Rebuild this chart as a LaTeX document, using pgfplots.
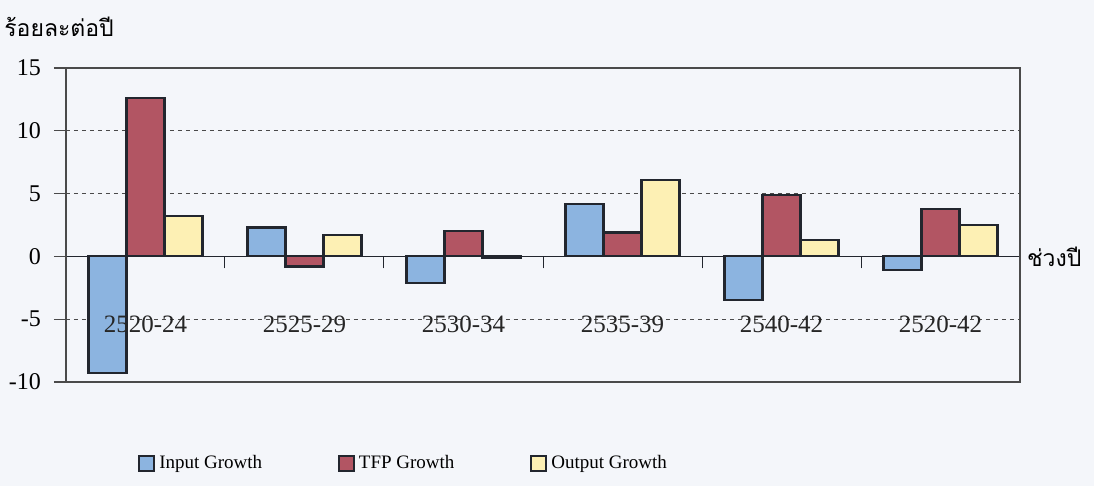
\documentclass[border=0pt]{standalone}
\usepackage{pgfplots}
\pgfplotsset{compat=1.18}
\usepackage{fontspec}
\setmainfont{Liberation Serif}
\newfontfamily\thaifont[Script=Thai]{Loma}

\definecolor{paper}{HTML}{F4F6FA}
\definecolor{inputblue}{HTML}{8CB4E0}
\definecolor{tfpred}{HTML}{B25563}
\definecolor{outyellow}{HTML}{FDF0B4}
\definecolor{barline}{HTML}{22262E}
\definecolor{gridgray}{HTML}{4A4A4A}

\tikzset{period/.style={font=\fontsize{12.5}{14}\selectfont, text=black!85}}

\begin{document}
\begin{tikzpicture}
  % picture frame, same proportions as the scan
  \path[fill=paper] (-33pt,-52pt) rectangle (514pt,191pt);
  \path[use as bounding box] (-33pt,-52pt) rectangle (514pt,191pt);
  \begin{axis}[
      at={(0,0)}, anchor=south west,
      scale only axis, width=477pt, height=157pt,
      clip=false,
      ybar=0pt, bar width=19pt,
      xmin=-0.5, xmax=5.5,
      ymin=-10, ymax=15,
      ytick={-10,-5,0,5,10,15},
      ytick pos=left, ytick align=outside,
      major tick length=6pt,
      y tick style={gridgray, line width=0.6pt},
      yticklabel style={xshift=-3pt},
      axis x line=middle,
      x axis line style={-, barline, line width=0.8pt},
      xtick={0.5,1.5,2.5,3.5,4.5},
      xticklabels={},
      xtick align=outside,
      x tick style={barline, line width=0.5pt},
      y axis line style={gridgray, line width=0.7pt},
      ymajorgrids,
      major grid style={dash pattern=on 2.2pt off 1.8pt, gridgray, line width=0.6pt},
      tick label style={font=\fontsize{12}{14}\selectfont},
      /pgf/number format/assume math mode=true,
      legend style={
          draw=none, fill=none,
          at={(0.355,-0.26)}, anchor=center,
          legend columns=-1,
          font=\fontsize{9.5}{11}\selectfont,
          /tikz/every even column/.append style={column sep=36pt}
      },
      legend image code/.code={
          \draw[#1, line width=0.9pt] (0pt,-3.8pt) rectangle (7.5pt,4pt);
      },
      every axis plot/.append style={draw=barline, line width=1.1pt},
    ]
    \addplot[fill=inputblue] coordinates {
      (0,-9.3) (1,2.3) (2,-2.1) (3,4.2) (4,-3.5) (5,-1.1) };
    \addplot[fill=tfpred] coordinates {
      (0,12.6) (1,-0.8) (2,2.0) (3,1.9) (4,4.9) (5,3.8) };
    \addplot[fill=outyellow] coordinates {
      (0,3.2) (1,1.7) (2,-0.15) (3,6.1) (4,1.3) (5,2.5) };
    \legend{Input Growth, TFP Growth, Output Growth}

    % frame of the plot area
    \draw[gridgray, line width=0.7pt] (rel axis cs:0,0) rectangle (rel axis cs:1,1);

    % period labels sit on the -5 line
    \node[period] at (axis cs:0,-5.4) {2520-24};
    \node[period] at (axis cs:1,-5.4) {2525-29};
    \node[period] at (axis cs:2,-5.4) {2530-34};
    \node[period] at (axis cs:3,-5.4) {2535-39};
    \node[period] at (axis cs:4,-5.4) {2540-42};
    \node[period] at (axis cs:5,-5.4) {2520-42};

    \node[anchor=west, font=\thaifont\fontsize{11.5}{13}\selectfont]
      at (rel axis cs:-0.072,1.13) {ร้อยละต่อปี};
    \node[anchor=west, font=\thaifont\fontsize{11.5}{13}\selectfont]
      at (rel axis cs:1.0,0.4) {ช่วงปี};
  \end{axis}
\end{tikzpicture}
\end{document}
